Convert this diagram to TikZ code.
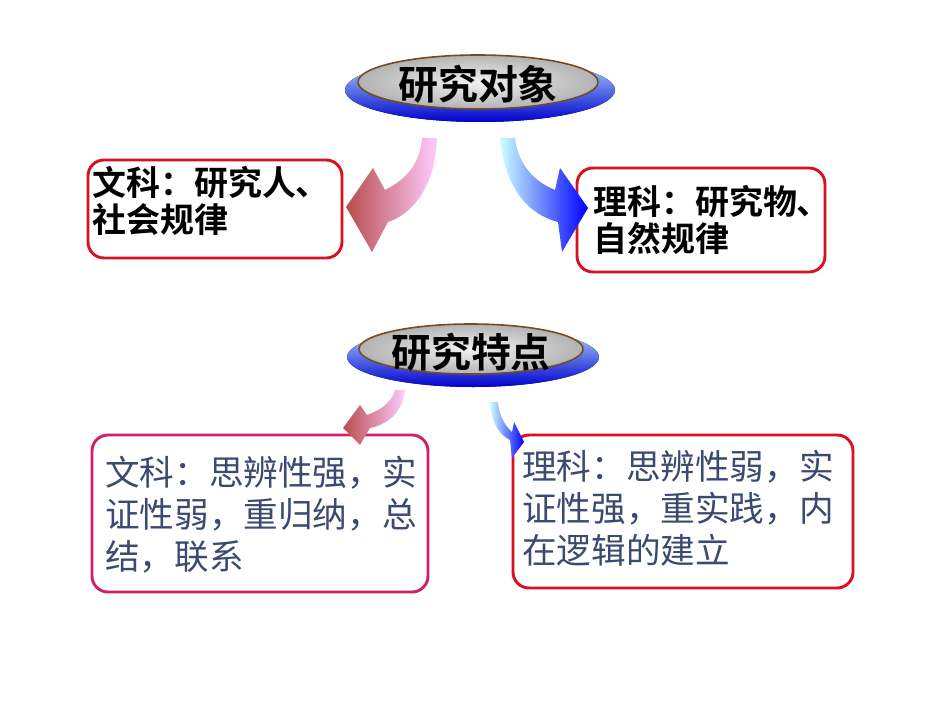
\documentclass[tikz,border=0pt]{standalone}
\usepackage{fontspec}
\newfontfamily\cjk{Noto Sans CJK SC}
\newfontfamily\cjkb{Noto Sans CJK SC Bold}
\definecolor{bred}{HTML}{D81020}
\definecolor{bpink}{HTML}{D02068}
\definecolor{txtb}{HTML}{3A4A70}
\begin{document}
\begin{tikzpicture}[x=0.0264cm,y=-0.0264cm,
  box/.style={draw=bred,line width=2.2pt,rounded corners=12pt,fill=white},
  btxt/.style={font=\cjkb\fontsize{25.5}{28}\selectfont,align=left,anchor=north west,inner sep=0pt},
  rtxt/.style={font=\cjk\fontsize{26}{31.5}\selectfont,align=left,anchor=north west,inner sep=0pt,text=txtb},
  head/.style={font=\cjkb\fontsize{30}{32}\selectfont}]
\useasboundingbox (0,0) rectangle (950,713);
% top disk
\fill[top color=blue!40!cyan!30,bottom color=blue!80!black] (480,90) ellipse (135 and 32);
\fill[inner color=gray!10,outer color=gray!60,draw=brown!60!black,line width=1.2pt] (478,82) ellipse (120 and 27);
\node[head] (h1) at (478,84) {研究对象};
% second disk
\fill[top color=blue!40!cyan!30,bottom color=blue!80!black] (473,357) ellipse (126 and 30);
\fill[inner color=gray!10,outer color=gray!60,draw=brown!60!black,line width=1.2pt] (471,349) ellipse (112 and 25);
\node[head] (h2) at (471,352) {研究特点};
% boxes
\draw[box] (88,160) rectangle (342,258);
\node[btxt] (t1) at (92,166) {文科：研究人、\\社会规律};
\draw[box] (577,168) rectangle (825,272);
\node[btxt] (t2) at (593,185) {理科：研究物、\\自然规律};
\draw[box,draw=bpink] (92,435) rectangle (428,592);
\node[rtxt] (t3) at (105,456) {文科：思辨性强，实\\证性弱，重归纳，总\\结，联系};
\draw[box] (513,435) rectangle (853,588);
\node[rtxt] (t4) at (522,450) {理科：思辨性弱，实\\证性强，重实践，内\\在逻辑的建立};
% arrows top
\shade[left color=red!60!black!70,right color=magenta!20] (437,138) .. controls (435,190) and (410,215) .. (388,222) -- (372,252) -- (346,207) -- (373,168) -- (385,190) .. controls (405,180) and (420,165) .. (422,138) -- cycle;
\shade[left color=cyan!20,right color=blue] (500,138) .. controls (505,190) and (530,215) .. (558,222) -- (562,252) -- (588,208) -- (560,168) -- (555,190) .. controls (535,182) and (518,165) .. (515,138) -- cycle;
% arrows bottom
\shade[left color=red!60!black!70,right color=magenta!20] (405,390) .. controls (402,415) and (385,425) .. (370,428) -- (360,445) -- (343,428) -- (360,405) -- (367,415) .. controls (382,410) and (393,400) .. (395,390) -- cycle;
\shade[left color=cyan!20,right color=blue] (490,402) .. controls (492,425) and (500,435) .. (510,440) -- (512,458) -- (524,442) -- (514,422) -- (512,432) .. controls (504,425) and (499,415) .. (498,402) -- cycle;
\end{tikzpicture}
\end{document}
